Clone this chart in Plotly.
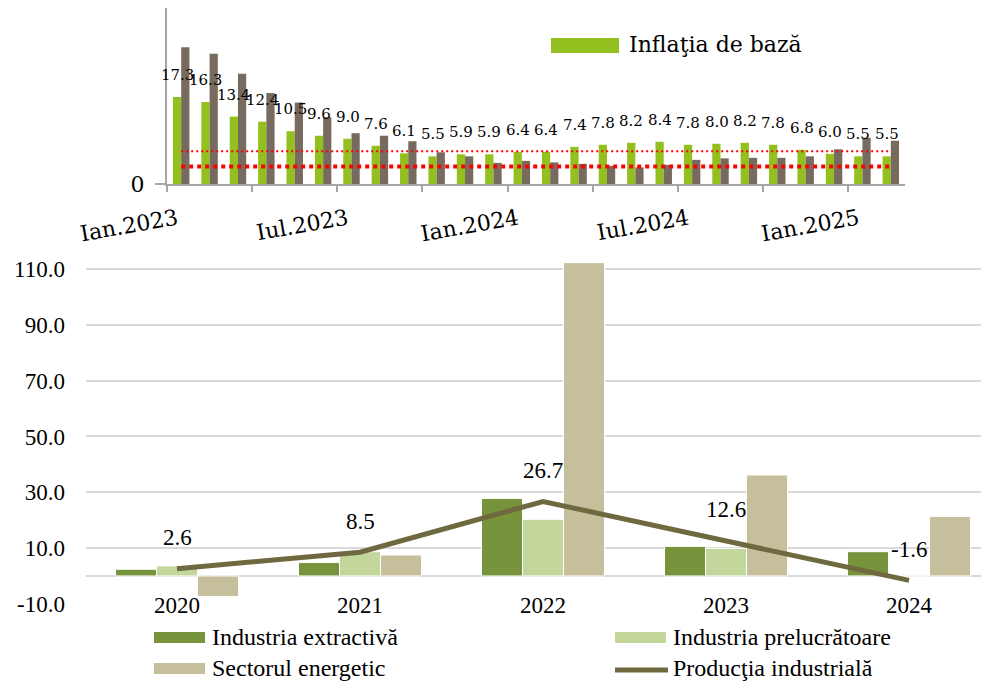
import plotly.graph_objects as go

# ---------------- data: top chart ----------------
months = ["Ian.2023", "Feb.2023", "Mar.2023", "Apr.2023", "Mai.2023", "Iun.2023",
          "Iul.2023", "Aug.2023", "Sep.2023", "Oct.2023", "Noi.2023", "Dec.2023",
          "Ian.2024", "Feb.2024", "Mar.2024", "Apr.2024", "Mai.2024", "Iun.2024",
          "Iul.2024", "Aug.2024", "Sep.2024", "Oct.2024", "Noi.2024", "Dec.2024",
          "Ian.2025", "Feb.2025"]
core_inflation = [17.3, 16.3, 13.4, 12.4, 10.5, 9.6, 9.0, 7.6, 6.1, 5.5, 5.9, 5.9,
                  6.4, 6.4, 7.4, 7.8, 8.2, 8.4, 7.8, 8.0, 8.2, 7.8, 6.8, 6.0, 5.5, 5.5]
cpi_inflation = [27.2, 25.9, 21.9, 18.1, 16.2, 13.3, 10.1, 9.6, 8.5, 6.3, 5.5, 4.2,
                 4.6, 4.3, 4.0, 3.6, 3.3, 3.8, 4.8, 5.1, 5.2, 5.2, 5.5, 6.9, 9.2, 8.6]
target_upper = 6.5
target_lower = 3.5
top_tick_labels = ["Ian.2023", "Iul.2023", "Ian.2024", "Iul.2024", "Ian.2025"]
top_legend = "Inflaţia de bază"

# ---------------- data: bottom chart ----------------
years = ["2020", "2021", "2022", "2023", "2024"]
extractiva = [2.4, 4.8, 27.8, 10.6, 8.7]
prelucratoare = [3.6, 8.7, 20.3, 9.9, 0.0]
energetic = [-7.4, 7.5, 112.3, 36.2, 21.3]
productia = [2.6, 8.5, 26.7, 12.6, -1.6]
bottom_ticks = [-10, 10, 30, 50, 70, 90, 110]
names_bottom = ["Industria extractivă", "Industria prelucrătoare",
                "Sectorul energetic", "Producţia industrială"]

# ---------------- styling ----------------
OFF = 8                      # page body margin
W, H = 989 - OFF, 682 - OFF  # figure size that fits the window
GREEN = "#93C01F"
GRAY = "#766B5E"
C_EXTR = "#77933C"
C_PREL = "#C3D69B"
C_ENER = "#C6BF9C"
C_LINE = "#6E693E"
AXIS_GRAY = "#A6A6A6"
GRID = "#D9D9D9"
SERIF_TOP = "DejaVu Serif"
SERIF_BOT = "Liberation Serif, Times New Roman, serif"


def px_x(p):
    return (p - OFF) / W


def px_y(p):
    return min(1.0, 1 - (p - OFF) / H)


fig = go.Figure()
n = len(months)

# top chart bars
fig.add_trace(go.Bar(x=months, y=core_inflation, name=top_legend,
                     marker=dict(color=GREEN, line=dict(width=0)),
                     width=0.29, offset=-0.29, xaxis="x", yaxis="y"))
fig.add_trace(go.Bar(x=months, y=cpi_inflation, name="IPC",
                     marker=dict(color=GRAY, line=dict(width=0)),
                     width=0.29, offset=0.0, xaxis="x", yaxis="y"))
# target corridor lines
fig.add_trace(go.Scatter(x=[0, n - 1], y=[target_upper, target_upper], mode="lines",
                         line=dict(color="#FF0000", width=2, dash="2px,3px"),
                         xaxis="x2", yaxis="y", hoverinfo="skip"))
fig.add_trace(go.Scatter(x=[0, n - 1], y=[target_lower, target_lower], mode="lines",
                         line=dict(color="#FF0000", width=4, dash="4px,4px"),
                         xaxis="x2", yaxis="y", hoverinfo="skip"))

# bottom chart bars
bw = 0.224
fig.add_trace(go.Bar(x=years, y=extractiva, name=names_bottom[0],
                     marker=dict(color=C_EXTR, line=dict(color="white", width=1)),
                     width=bw, offset=-1.5 * bw, xaxis="x3", yaxis="y3"))
fig.add_trace(go.Bar(x=years, y=prelucratoare, name=names_bottom[1],
                     marker=dict(color=C_PREL, line=dict(color="white", width=1)),
                     width=bw, offset=-0.5 * bw, xaxis="x3", yaxis="y3"))
fig.add_trace(go.Bar(x=years, y=energetic, name=names_bottom[2],
                     marker=dict(color=C_ENER, line=dict(color="white", width=1)),
                     width=bw, offset=0.5 * bw, xaxis="x3", yaxis="y3"))
fig.add_trace(go.Scatter(x=years, y=productia, name=names_bottom[3], mode="lines",
                         line=dict(color=C_LINE, width=5), xaxis="x3", yaxis="y3"))

annotations = []
# top data labels (above green bars)
for m, v in zip(months, core_inflation):
    annotations.append(dict(x=m, y=v, xref="x", yref="y", text=f"{v:.1f}",
                            showarrow=False, yshift=22, xshift=-4,
                            font=dict(family=SERIF_TOP, size=15, color="black")))
# bottom line labels (category index positions)
for i, v in enumerate(productia):
    annotations.append(dict(x=i, y=v, xref="x3", yref="y3", text=f"{v:.1f}",
                            showarrow=False, yshift=31,
                            font=dict(family=SERIF_BOT, size=23, color="black")))

shapes = []
# top legend
shapes.append(dict(type="rect", xref="paper", yref="paper",
                   x0=px_x(551), x1=px_x(619), y0=px_y(53), y1=px_y(38),
                   fillcolor=GREEN, line=dict(width=0)))
annotations.append(dict(x=px_x(627), y=px_y(45), xref="paper", yref="paper",
                        text=top_legend, showarrow=False, xanchor="left", yanchor="middle",
                        font=dict(family=SERIF_TOP, size=22, color="black")))

# bottom legend
leg_items = [(names_bottom[0], C_EXTR, 154, 637, "rect"),
             (names_bottom[1], C_PREL, 615, 637, "rect"),
             (names_bottom[2], C_ENER, 154, 668, "rect"),
             (names_bottom[3], C_LINE, 615, 668, "line")]
for name, col, x0, yc, kind in leg_items:
    if kind == "rect":
        shapes.append(dict(type="rect", xref="paper", yref="paper",
                           x0=px_x(x0), x1=px_x(x0 + 51), y0=px_y(yc + 6), y1=px_y(yc - 5),
                           fillcolor=col, line=dict(width=0)))
    else:
        shapes.append(dict(type="line", xref="paper", yref="paper",
                           x0=px_x(x0), x1=px_x(x0 + 53), y0=px_y(yc + 2), y1=px_y(yc + 2),
                           line=dict(color=col, width=5)))
    annotations.append(dict(x=px_x(x0 + 56), y=px_y(yc), xref="paper", yref="paper",
                            text=name, showarrow=False, xanchor="left", yanchor="middle",
                            font=dict(family=SERIF_BOT, size=24, color="black")))

fig.update_layout(
    width=W, height=H,
    margin=dict(l=0, r=0, t=0, b=0, autoexpand=False),
    paper_bgcolor="white", plot_bgcolor="white",
    barmode="overlay",
    showlegend=False,
    xaxis=dict(domain=[px_x(167), px_x(905)], anchor="y", type="category",
               range=[-0.5, n - 0.5], tickmode="array", tickvals=top_tick_labels,
               ticktext=top_tick_labels, tickangle=-10, ticks="", automargin=False,
               ticklabelstandoff=12, ticklabelshift=-4,
               showline=True, linecolor=AXIS_GRAY, linewidth=2, showgrid=False,
               tickfont=dict(family=SERIF_TOP, size=22, color="black")),
    xaxis2=dict(overlaying="x", anchor="y", range=[-0.5, n - 0.5], automargin=False,
                tickmode="array", tickvals=[k - 0.5 for k in range(0, n - 1, 3)],
                ticks="outside", ticklen=7, tickwidth=2, tickcolor=AXIS_GRAY,
                showticklabels=False, showgrid=False, showline=False, zeroline=False),
    yaxis=dict(domain=[px_y(184), px_y(7)], anchor="x", range=[0, 35], automargin=False,
               tickmode="array", tickvals=[0], ticks="outside", ticklen=10,
               tickwidth=2, tickcolor=AXIS_GRAY, showline=True, linecolor=AXIS_GRAY,
               linewidth=2, showgrid=False, zeroline=False, ticklabelstandoff=6,
               tickfont=dict(family=SERIF_TOP, size=22, color="black")),
    xaxis3=dict(domain=[px_x(85.5), 1.0], anchor="free", position=px_y(589),
                type="category", range=[-0.5, 4.437], ticks="", showgrid=False,
                showline=False, zeroline=False, automargin=False,
                tickfont=dict(family=SERIF_BOT, size=23, color="black")),
    yaxis3=dict(domain=[px_y(604.7), px_y(260.7)], anchor="x3", range=[-10.3, 113],
                tickmode="array", tickvals=bottom_ticks,
                ticktext=[f"{t:.1f}" for t in bottom_ticks], automargin=False,
                showgrid=True, gridcolor=GRID, gridwidth=1.5,
                zeroline=True, zerolinecolor=GRID, zerolinewidth=1.5,
                ticks="outside", ticklen=0, ticklabelstandoff=15,
                tickfont=dict(family=SERIF_BOT, size=23, color="black")),
    annotations=annotations,
    shapes=shapes,
)

fig.write_html("out.html")
